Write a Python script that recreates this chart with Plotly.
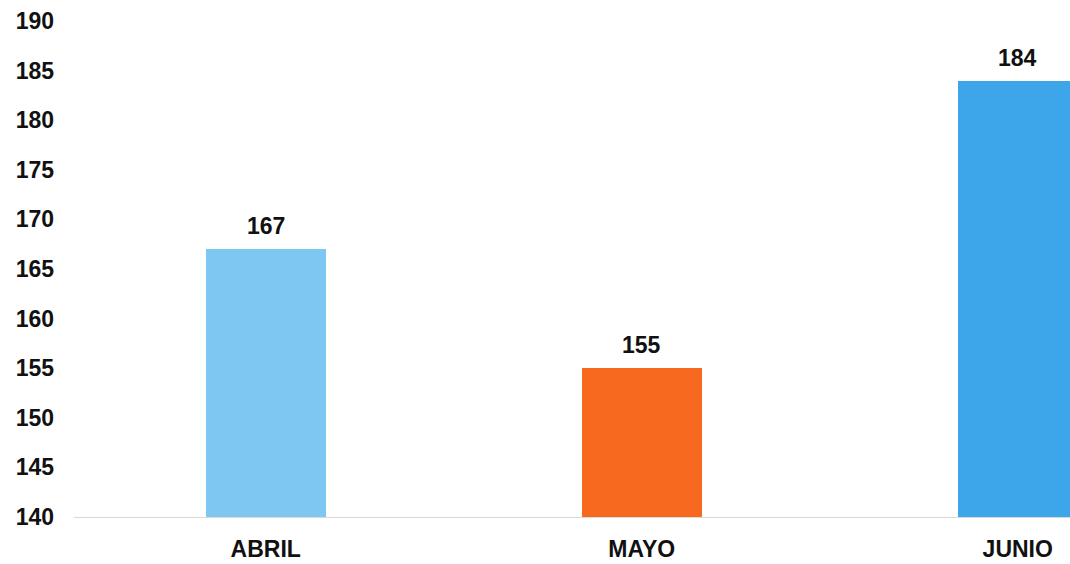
import plotly.graph_objects as go

categories = ["ABRIL", "MAYO", "JUNIO"]
values = [167, 155, 184]
colors = ["#7cc8f2", "#f7691f", "#3da5ea"]
y_ticks = [140, 145, 150, 155, 160, 165, 170, 175, 180, 185, 190]

FONT = "Liberation Sans, Arial, sans-serif"
TXT = dict(family=FONT, size=23, color="#111111", weight="bold")

fig = go.Figure()
fig.add_trace(go.Bar(
    x=categories, y=values, marker=dict(color=colors, line=dict(width=0)),
    width=0.32, showlegend=False, hoverinfo="skip",
))

for c, v in zip(categories, values):
    fig.add_annotation(x=c, y=v, text=str(v), showarrow=False, yanchor="bottom",
                       yshift=8, font=TXT)

fig.update_layout(
    width=1070, height=564,
    margin=dict(l=74, r=0, t=21, b=47),
    paper_bgcolor="white", plot_bgcolor="white",
    font=TXT,
    bargap=0,
)
fig.update_xaxes(
    type="category", range=[-0.51, 2.139], showgrid=False, automargin=False,
    showline=True, linecolor="#d9d9d9", linewidth=1,
    ticks="", ticklabelstandoff=11, tickfont=TXT,
)
fig.update_yaxes(
    range=[140, 190], tickvals=y_ticks, showgrid=False, zeroline=False, automargin=False,
    showline=False, ticks="", ticklabelstandoff=19, tickfont=TXT,
)

fig.write_html(
    "out.html",
    config={"displayModeBar": False, "staticPlot": True},
    post_script="document.body.style.margin='0';document.body.style.overflow='hidden';",
)
